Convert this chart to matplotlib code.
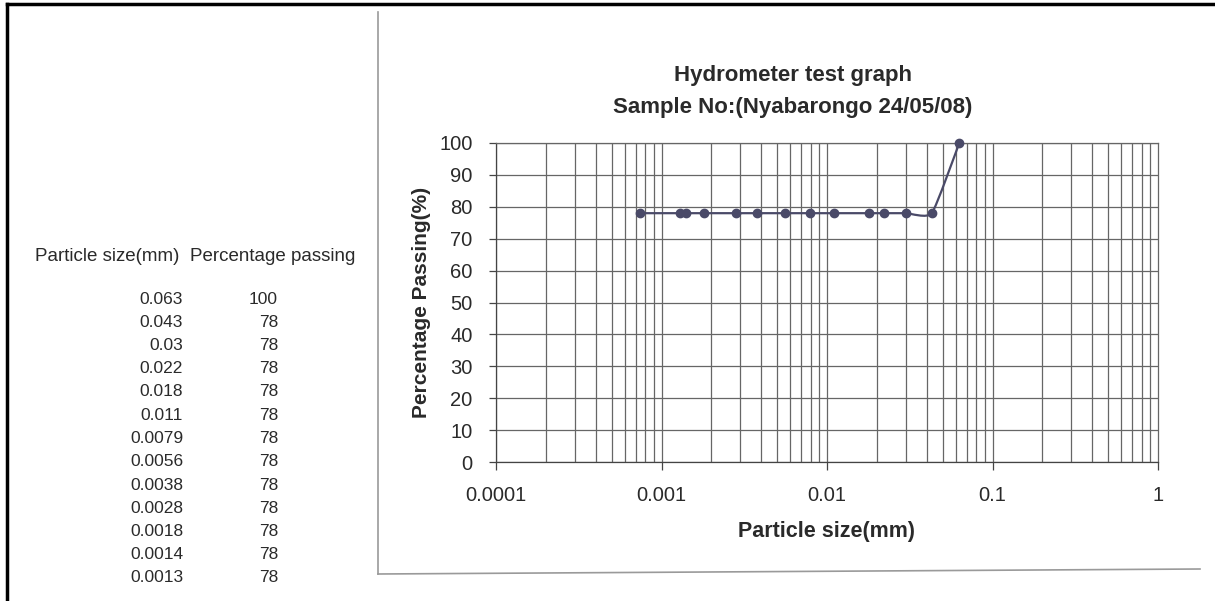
import numpy as np
import matplotlib.pyplot as plt
from matplotlib.path import Path
from matplotlib.patches import PathPatch
from matplotlib.lines import Line2D
from matplotlib.ticker import FixedLocator, FuncFormatter, NullLocator

plt.rcParams['font.family'] = ['Liberation Sans', 'DejaVu Sans']

# donnees du test (tableau de gauche)
size_mm = [0.063, 0.043, 0.03, 0.022, 0.018, 0.011, 0.0079, 0.0056,
           0.0038, 0.0028, 0.0018, 0.0014, 0.0013, 0.00074]
size_txt = ['0.063', '0.043', '0.03', '0.022', '0.018', '0.011', '0.0079',
            '0.0056', '0.0038', '0.0028', '0.0018', '0.0014', '0.0013']
passing = [100, 78, 78, 78, 78, 78, 78, 78, 78, 78, 78, 78, 78, 78]
y_ticks = [0, 10, 20, 30, 40, 50, 60, 70, 80, 90, 100]
x_ticks = [0.0001, 0.001, 0.01, 0.1, 1]

W, H = 1215, 601
fig = plt.figure(figsize=(W / 100, H / 100), dpi=100)
txt = '#2a2a2a'

# bordure noire du document (scan)
fig.add_artist(Line2D([7 / W, 1], [1 - 4 / H, 1 - 4 / H], color='black', lw=2.5, transform=fig.transFigure))
fig.add_artist(Line2D([7 / W, 7 / W], [0, 1 - 4 / H], color='black', lw=2.5, transform=fig.transFigure))
# cadre gris de la zone du graphique
fig.add_artist(Line2D([378 / W, 378 / W], [1 - 12 / H, 1 - 574 / H], color='#9a9a9a', lw=1.2, transform=fig.transFigure))
fig.add_artist(Line2D([378 / W, 1200 / W], [1 - 574 / H, 1 - 569 / H], color='#9a9a9a', lw=1.2, transform=fig.transFigure))

# tableau
fig.text(35 / W, 1 - 256 / H, 'Particle size(mm)', fontsize=13.5, color=txt, va='center', ha='left')
fig.text(190 / W, 1 - 256 / H, 'Percentage passing', fontsize=13.5, color=txt, va='center', ha='left')
for i, s in enumerate(size_txt):
    yy = 1 - (299 + i * 23.25) / H
    fig.text(183 / W, yy, s, fontsize=12.5, color=txt, va='center', ha='right')
    fig.text(278 / W, yy, str(passing[i]), fontsize=12.5, color=txt, va='center', ha='right')

# graphique
ax = fig.add_axes([496 / W, 1 - 462 / H, (1158 - 496) / W, (462 - 143) / H])
ax.set_xscale('log')
ax.set_xlim(0.0001, 1)
ax.set_ylim(0, 100)

grid_c = '#666666'
for d in [0.0001, 0.001, 0.01, 0.1]:
    for k in range(1, 10):
        ax.axvline(d * k, color=grid_c, lw=0.9, zorder=1)
for v in y_ticks:
    ax.axhline(v, color=grid_c, lw=0.9, zorder=1)

for s in ax.spines.values():
    s.set_color(grid_c)
    s.set_linewidth(0.9)
ax.spines['bottom'].set_color('#444444')
ax.spines['left'].set_color('#444444')

ax.xaxis.set_major_locator(FixedLocator(x_ticks))
ax.xaxis.set_minor_locator(NullLocator())
ax.xaxis.set_major_formatter(FuncFormatter(lambda v, p: '%g' % v))
ax.yaxis.set_major_locator(FixedLocator(y_ticks))
ax.tick_params(axis='both', labelsize=14.5, colors='#444444', labelcolor=txt, length=6, width=0.9)
ax.tick_params(axis='x', pad=11)
ax.tick_params(axis='y', pad=12, length=5)

# courbe lissee (type Excel) en espace log
xs = np.log10(np.array(size_mm[::-1]))
ys = np.array(passing[::-1], dtype=float)
pts = np.column_stack([xs, ys])
n = len(pts)
verts = [pts[0]]
codes = [Path.MOVETO]
for i in range(n - 1):
    p0 = pts[i - 1] if i > 0 else pts[i]
    p1 = pts[i]
    p2 = pts[i + 1]
    p3 = pts[i + 2] if i + 2 < n else pts[i + 1]
    c1 = p1 + (p2 - p0) / 12
    c2 = p2 - (p3 - p1) / 12
    verts += [c1, c2, p2]
    codes += [Path.CURVE4] * 3
verts = np.array(verts)
verts[:, 0] = 10 ** verts[:, 0]
line_c = '#4a4a68'
ax.add_patch(PathPatch(Path(verts, codes), facecolor='none', edgecolor=line_c, lw=1.6, zorder=3, clip_on=False))
ax.plot(size_mm, passing, linestyle='none', marker='o', markersize=6, color=line_c, zorder=4, clip_on=False)

ax.set_xlabel('Particle size(mm)', fontsize=15.5, fontweight='bold', color=txt, labelpad=12)
ax.set_ylabel('Percentage Passing(%)', fontsize=15, fontweight='bold', color=txt, labelpad=6)
fig.text(793 / W, 1 - 76 / H, 'Hydrometer test graph', fontsize=16, fontweight='bold', color=txt, ha='center', va='center')
fig.text(793 / W, 1 - 107 / H, 'Sample No:(Nyabarongo 24/05/08)', fontsize=16, fontweight='bold', color=txt, ha='center', va='center')

fig.savefig('out.png', dpi=100)
